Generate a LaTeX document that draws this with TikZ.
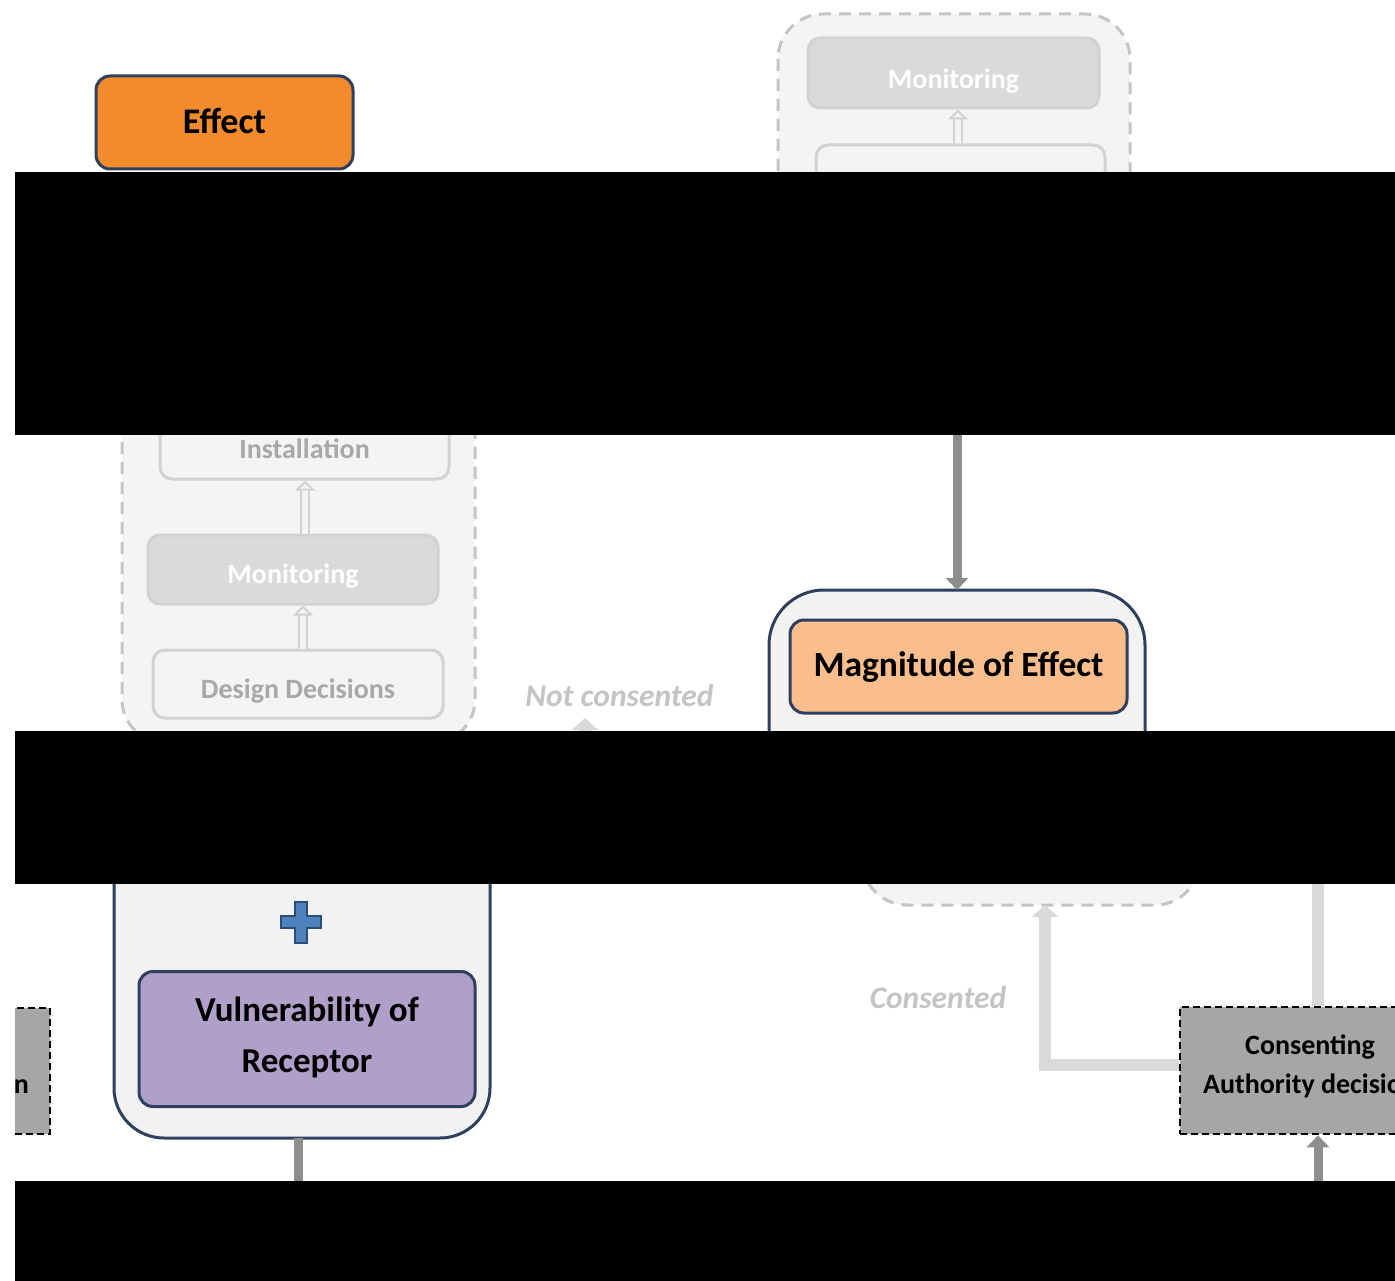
\documentclass[tikz,border=0pt]{standalone}
\usepackage{fontspec}
\setmainfont{Carlito}
\usetikzlibrary{arrows.meta}
\definecolor{navy}{HTML}{2F3F5E}
\definecolor{effor}{HTML}{F28A2E}
\definecolor{lightor}{HTML}{F9BE8C}
\definecolor{purp}{HTML}{B09FC9}
\definecolor{contfill}{HTML}{F2F2F2}
\definecolor{boxgray}{HTML}{A6A6A6}
\definecolor{fadeline}{HTML}{C4C4C4}
\definecolor{fadefill}{HTML}{F4F4F4}
\definecolor{fadebox}{HTML}{D2D2D2}
\definecolor{fademon}{HTML}{DADADA}
\definecolor{fadetext}{HTML}{A8A8A8}
\definecolor{linktext}{HTML}{C4C4C4}
\definecolor{darkarrow}{HTML}{8E8E8E}
\definecolor{lightarrow}{HTML}{D9D9D9}
\definecolor{plusfill}{HTML}{4F81BD}
\definecolor{plusline}{HTML}{2C4D75}
\newcommand{\fs}[1]{\fontsize{#1}{#1}\selectfont}
\begin{document}
\begin{tikzpicture}[x=1pt,y=-1pt,
  mainbox/.style={draw=navy,line width=3pt,rounded corners=14pt,inner sep=0pt},
  container/.style={draw=navy,line width=3pt,fill=contfill},
  fadegroup/.style={draw=fadeline,line width=3pt,dash pattern=on 12pt off 8pt,fill=fadefill},
  fadebx/.style={draw=fadebox,line width=3pt,fill=fadefill,rounded corners=12pt,inner sep=0pt},
  fademonbx/.style={draw=fadebox,line width=3pt,fill=fademon,rounded corners=12pt,inner sep=0pt},
  decbox/.style={draw=black,line width=2.5pt,dash pattern=on 7pt off 4pt,fill=boxgray,inner sep=0pt},
  lbl/.style={anchor=base,inner sep=0pt,font=\bfseries\fs{#1}},
  fadelbl/.style={lbl=28,text=fadetext},
  monlbl/.style={lbl=28,text=white},
  hollow/.style={draw=fadebox,line width=2pt,double=fadefill,double distance=6pt,-{Triangle[open,length=10pt,width=20pt]}},
  darkarr/.style={draw=darkarrow,line width=9pt,-{Triangle[length=12pt,width=22pt]}},
  lightarr/.style={draw=lightarrow,line width=12pt,-{Triangle[length=12pt,width=26pt]}},
  linklabel/.style={anchor=base,inner sep=0pt,font=\bfseries\itshape\fs{31.5},text=linktext}
]
\useasboundingbox (0,0) rectangle (1395,1281);
\fill[white] (0,0) rectangle (1395,1281);
\clip (15,0) rectangle (1395,1281);

% ---- top-left Effect box
\node[mainbox,fill=effor,minimum width=257pt,minimum height=93pt] (effect) at (224.5,122.5) {};
\node[lbl=36] (effecttext) at (224.5,133.5) {Effect};

% ---- top-right faded group
\draw[fadegroup,rounded corners=45pt] (778,14) rectangle (1130,320);
\node[fademonbx,minimum width=291pt,minimum height=70pt] (montop) at (953.5,73) {};
\node[monlbl] (montoptext) at (953.5,89) {Monitoring};
\node[fadebx,minimum width=289pt,minimum height=70pt] (lowtop) at (960.5,180) {};
\draw[hollow] (lowtop.north -| 958,0) -- (montop.south -| 958,0);

% ---- left faded group
\draw[fadegroup,rounded corners=42pt] (122,300) rectangle (475,742);
\node[fadebx,minimum width=289pt,minimum height=60pt] (install) at (304.5,449) {};
\node[fadelbl] (installtext) at (304.5,458) {Installation};
\node[fademonbx,minimum width=290pt,minimum height=69pt] (monleft) at (293,569.5) {};
\node[monlbl] (monlefttext) at (293,583.5) {Monitoring};
\node[fadebx,minimum width=290pt,minimum height=68pt] (design) at (298,684) {};
\node[fadelbl] (designtext) at (298,698) {Design Decisions};
\draw[hollow] (monleft.north -| 305,0) -- (install.south -| 305,0);
\draw[hollow] (design.north -| 303,0) -- (monleft.south -| 303,0);

% ---- Not consented
\node[linklabel] (notcons) at (619.5,706) {Not consented};
\coordinate (ncstart) at (585,780);
\coordinate (ncend) at (585,718);
\draw[lightarr] (ncstart) -- (ncend);

% ---- Magnitude container
\draw[container,rounded corners=55pt] (769,590) rectangle (1145,800);
\coordinate (magtop) at (957,590);
\node[mainbox,fill=lightor,minimum width=337pt,minimum height=93pt] (magnitude) at (958.5,666.5) {};
\node[lbl=35.5] (magtext) at (958.5,676.5) {Magnitude of Effect};
\coordinate (darkstart) at (957,400);
\draw[darkarr] (darkstart) -- (magtop);

% ---- bottom-right faded group
\draw[fadegroup,rounded corners=45pt] (862,760) rectangle (1200,905);
\coordinate (grpbottom) at (1045,905);

% ---- Consenting authority decision
\node[decbox,minimum width=260pt,minimum height=127pt] (consent) at (1310,1070.5) {};
\node[inner sep=0pt,align=center,font=\bfseries\fs{28},yshift=4pt] (consenttext) at (consent.center) {Consenting\\[11pt]Authority decision};
\draw[lightarr] (consent.west |- 0,1065) -- (1045,1065) -- (grpbottom);
\node[linklabel] (cons) at (938,1008) {Consented};
\coordinate (vtop) at (1318,850);
\draw[draw=lightarrow,line width=12pt] (vtop) -- (consent.north -| 1318,0);
\coordinate (cstart) at (1318,1240);
\draw[darkarr] (cstart) -- (consent.south -| 1318,0);

% ---- left partial box
\node[decbox,minimum width=200pt,minimum height=126pt] (leftbox) at (-50,1071) {};
\node[font=\bfseries\fs{28},anchor=base east,inner sep=0pt] (lefttext) at (29,1093) {n};

% ---- bottom-left container
\draw[container,rounded corners=50pt] (114,800) rectangle (490,1138);
\coordinate (contbottom) at (298,1138);
\node[mainbox,fill=purp,minimum width=336pt,minimum height=135pt] (vuln) at (307,1039) {};
\node[inner sep=0pt,align=center,font=\bfseries\fs{35},yshift=2pt] (vulntext) at (vuln.center) {Vulnerability of\\[16pt]Receptor};
\draw[fill=plusfill,draw=plusline,line width=2pt]
  (295,902) -- (307,902) -- (307,916) -- (321,916) -- (321,928) -- (307,928) -- (307,943) -- (295,943) -- (295,928) -- (281,928) -- (281,916) -- (295,916) -- cycle;
\coordinate (vulnend) at (298,1240);
\draw[draw=darkarrow,line width=9pt] (contbottom) -- (vulnend);

% ---- black bars
\fill[black] (15,172) rectangle (1395,435);
\fill[black] (15,731) rectangle (1395,884);
\fill[black] (15,1181) rectangle (1395,1281);
\end{tikzpicture}
\end{document}
